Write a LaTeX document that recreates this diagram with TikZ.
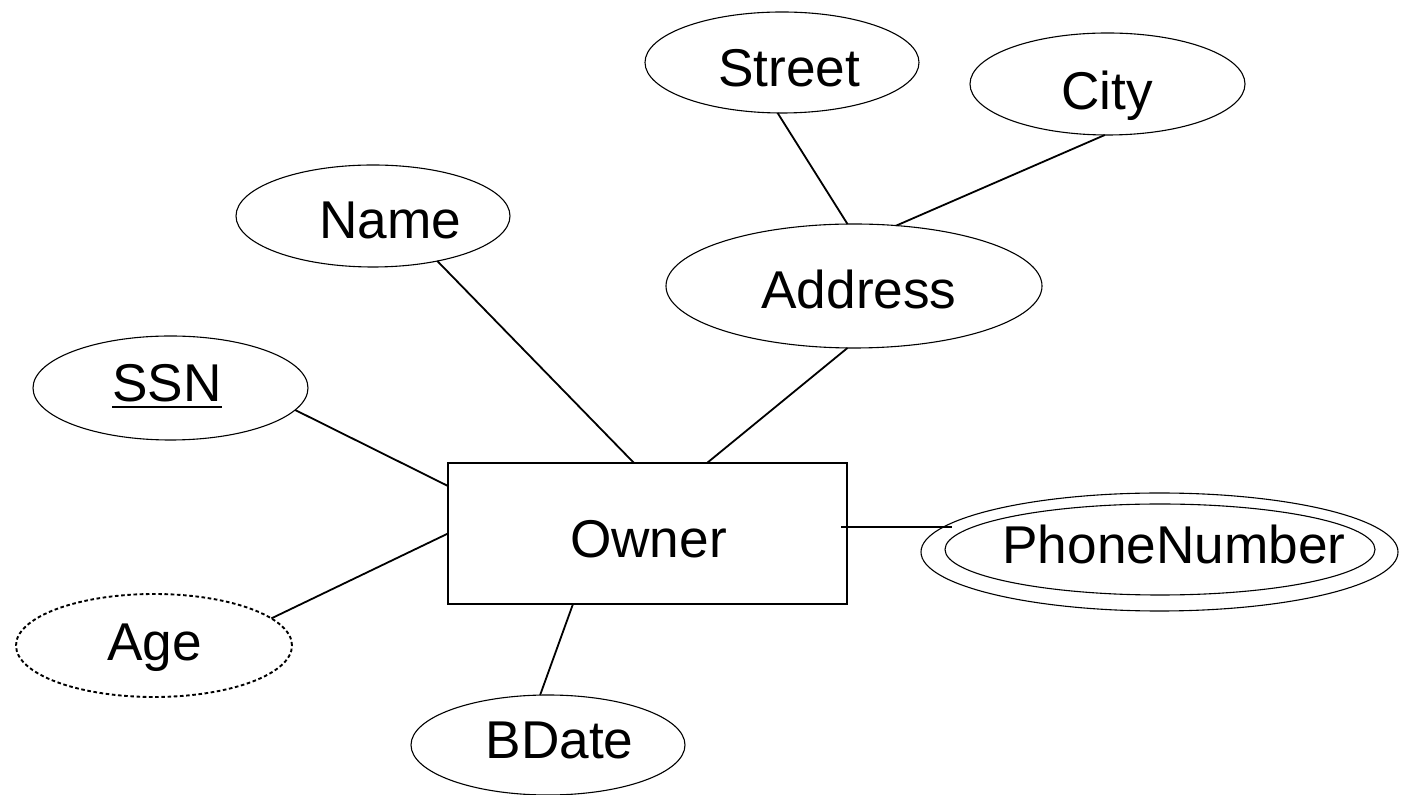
\documentclass[tikz,border=0pt]{standalone}
\usepackage{fontspec}
\setmainfont{Liberation Sans}
\usetikzlibrary{shapes.geometric}

\begin{document}
\begin{tikzpicture}[x=0.5pt,y=-0.5pt,
  attr/.style={ellipse,draw,line width=0.55pt,inner sep=0pt,outer sep=0pt},
  entity/.style={rectangle,draw,line width=0.8pt,inner sep=0pt,outer sep=0pt,
                 minimum width=199.5pt,minimum height=70.5pt},
  lbl/.style={anchor=base,inner sep=0pt,outer sep=0pt,font=\fontsize{26.6}{32}\selectfont},
  conn/.style={line width=0.9pt},
  derived/.style={dash pattern=on 1.8pt off 1.3pt,line width=0.95pt}]

  % canvas
  \fill[white] (0,0) rectangle (1408,795);
  \useasboundingbox (0,0) rectangle (1408,795);

  % entity
  \node[entity] (owner) at (647.5,533.5) {};

  % attributes
  \node[attr,minimum width=137pt,minimum height=50.5pt] (street) at (782,62.5) {};
  \node[attr,minimum width=137.5pt,minimum height=51pt] (city) at (1107.5,84) {};
  \node[attr,minimum width=137pt,minimum height=51pt] (name) at (373,216) {};
  \node[attr,minimum width=188pt,minimum height=62pt] (address) at (854,286) {};
  \node[attr,minimum width=137.5pt,minimum height=52pt] (ssn) at (170.5,388) {};
  \node[attr,derived,minimum width=138pt,minimum height=51.5pt] (age) at (154,645.5) {};
  \node[attr,minimum width=137pt,minimum height=50pt] (bdate) at (548,745) {};
  % multivalued attribute: double outline
  \node[attr,minimum width=238.5pt,minimum height=59pt] (phoneout) at (1159.5,552) {};
  \node[attr,minimum width=215pt,minimum height=45.5pt] (phonein) at (1160,549.5) {};

  % labels
  \node[lbl] (ownert)   at (648.5,558) {Owner};
  \node[lbl] (streett)  at (789,87)    {Street};
  \node[lbl] (cityt)    at (1107,110)  {City};
  \node[lbl] (namet)    at (390.5,239) {Name};
  \node[lbl] (addresst) at (859,309)   {Address};
  \node[lbl] (ssnt)     at (167,402)   {SSN};
  \node[lbl] (aget)     at (154.5,661) {Age};
  \node[lbl] (bdatet)   at (559.5,759) {BDate};
  \node[lbl] (phonet)   at (1174,564)  {PhoneNumber};

  % key underline
  \draw[line width=1.2pt] ([yshift=-2.6pt]ssnt.base west) -- ([yshift=-2.6pt]ssnt.base east);

  % connectors
  \draw[conn] (street.265) -- (address.96);
  \draw[conn] (city.267) -- (address.55);
  \draw[conn] (name.325) -- ([xshift=-6.75pt]owner.north);
  \draw[conn] (address.264) -- ([xshift=29.75pt]owner.north);
  \draw[conn] (ssn.-10) -- ([yshift=-11.5pt]owner.north west);
  \draw[conn] (age.13) -- (owner.west);
  \draw[conn] (bdate.99) -- ([xshift=-37.25pt]owner.south);
  \draw[conn] ([xshift=-3pt,yshift=3.25pt]owner.east) -- ([xshift=15.5pt,yshift=12.5pt]phoneout.west);
\end{tikzpicture}
\end{document}
